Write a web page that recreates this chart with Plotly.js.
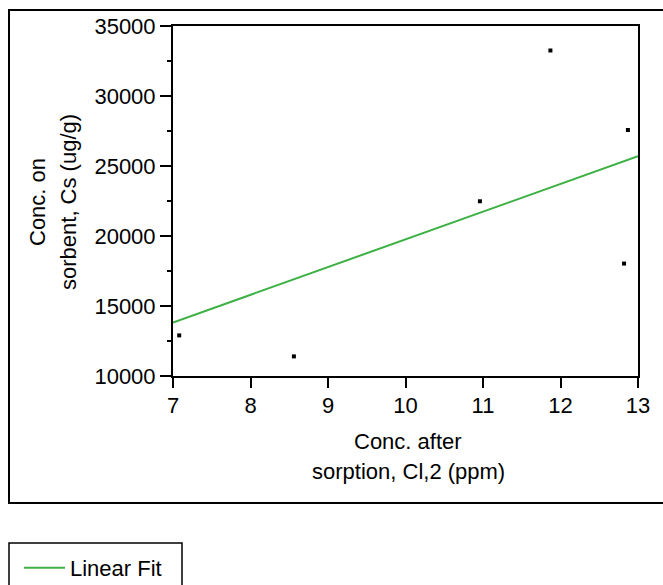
<!DOCTYPE html>
<html>
<head>
<meta charset="utf-8">
<script src="https://cdn.plot.ly/plotly-3.0.1.min.js"></script>
<style>html,body{margin:0;padding:0;background:#fff;}#chart{width:663px;height:585px;}</style>
</head>
<body>
<div id="chart"></div>
<script>
// Measured points
const concAfter = [7.08, 8.56, 10.96, 11.87, 12.82, 12.87];
const concOnSorbent = [12900, 11400, 22480, 33250, 18030, 27570];
// Linear fit line endpoints
const fitX = [7, 13];
const fitY = [13820, 25700];
const fitName = "Linear Fit";
const xTitleLines = ["Conc. after", "sorption, Cl,2 (ppm)"];
const yTitleLines = ["Conc. on", "sorbent, Cs (ug/g)"];

const FONT = "Liberation Sans, Arial, sans-serif";
const FS = 22;
const L = 173, R = 25, T = 26, B = 209, W = 663, H = 585;
const pw = W - L - R, ph = H - T - B;
const px = v => (v - L) / pw;
const py = v => 1 - (v - T) / ph;

const traces = [
  {
    x: concAfter, y: concOnSorbent, type: "scatter", mode: "markers",
    marker: {symbol: "square", size: 4, color: "#000"},
    showlegend: false, hoverinfo: "x+y"
  },
  {
    x: fitX, y: fitY, type: "scatter", mode: "lines", name: fitName,
    line: {color: "#3cb043", width: 2}
  }
];

const titleFont = {family: FONT, size: FS, color: "#000"};
const annotations = [
  {text: xTitleLines[0], xref: "paper", yref: "paper", x: px(408), y: py(441), xanchor: "center", yanchor: "middle", showarrow: false, font: titleFont},
  {text: xTitleLines[1], xref: "paper", yref: "paper", x: px(408), y: py(471), xanchor: "center", yanchor: "middle", showarrow: false, font: titleFont},
  {text: yTitleLines[0], xref: "paper", yref: "paper", x: px(37), y: py(202), xanchor: "center", yanchor: "middle", textangle: -90, showarrow: false, font: titleFont},
  {text: yTitleLines[1], xref: "paper", yref: "paper", x: px(68), y: py(202), xanchor: "center", yanchor: "middle", textangle: -90, showarrow: false, font: titleFont}
];

const layout = {
  width: W, height: H,
  margin: {l: L, r: R, t: T, b: B},
  paper_bgcolor: "#fff", plot_bgcolor: "#fff",
  font: {family: FONT, size: FS, color: "#000"},
  showlegend: true,
  xaxis: {
    range: [7, 13], dtick: 1, tick0: 7,
    ticks: "outside", ticklen: 10, tickwidth: 2, tickcolor: "#000",
    ticklabelstandoff: -1,
    showline: true, linewidth: 2, linecolor: "#000", mirror: true,
    showgrid: false, zeroline: false,
    tickfont: {family: FONT, size: FS, color: "#000"},
    automargin: false
  },
  yaxis: {
    range: [10000, 35000], dtick: 5000, tick0: 10000, tickformat: "d",
    ticks: "outside", ticklen: 11, tickwidth: 2, tickcolor: "#000",
    minor: {dtick: 2500, ticks: "outside", ticklen: 4, tickwidth: 2, tickcolor: "#000", showgrid: false},
    showline: true, linewidth: 2, linecolor: "#000", mirror: true,
    showgrid: false, zeroline: false,
    tickfont: {family: FONT, size: FS, color: "#000"},
    automargin: false
  },
  legend: {
    xref: "container", yref: "container",
    x: 19 / W, y: 1 - 547 / H, xanchor: "left", yanchor: "top",
    borderwidth: 0, bgcolor: "rgba(0,0,0,0)", itemwidth: 41,
    font: {family: FONT, size: FS, color: "#000"}
  },
  annotations: annotations,
  shapes: [
    {type: "rect", xref: "paper", yref: "paper",
     x0: px(9), x1: px(670), y0: py(10), y1: py(503),
     line: {color: "#000", width: 2}, fillcolor: "rgba(0,0,0,0)", layer: "below"},
    {type: "rect", xref: "paper", yref: "paper",
     x0: px(9), x1: px(182), y0: py(543), y1: py(595),
     line: {color: "#000", width: 1.5}, fillcolor: "rgba(0,0,0,0)", layer: "below"}
  ]
};

Plotly.newPlot("chart", traces, layout, {displayModeBar: false, staticPlot: true});
</script>
</body>
</html>
